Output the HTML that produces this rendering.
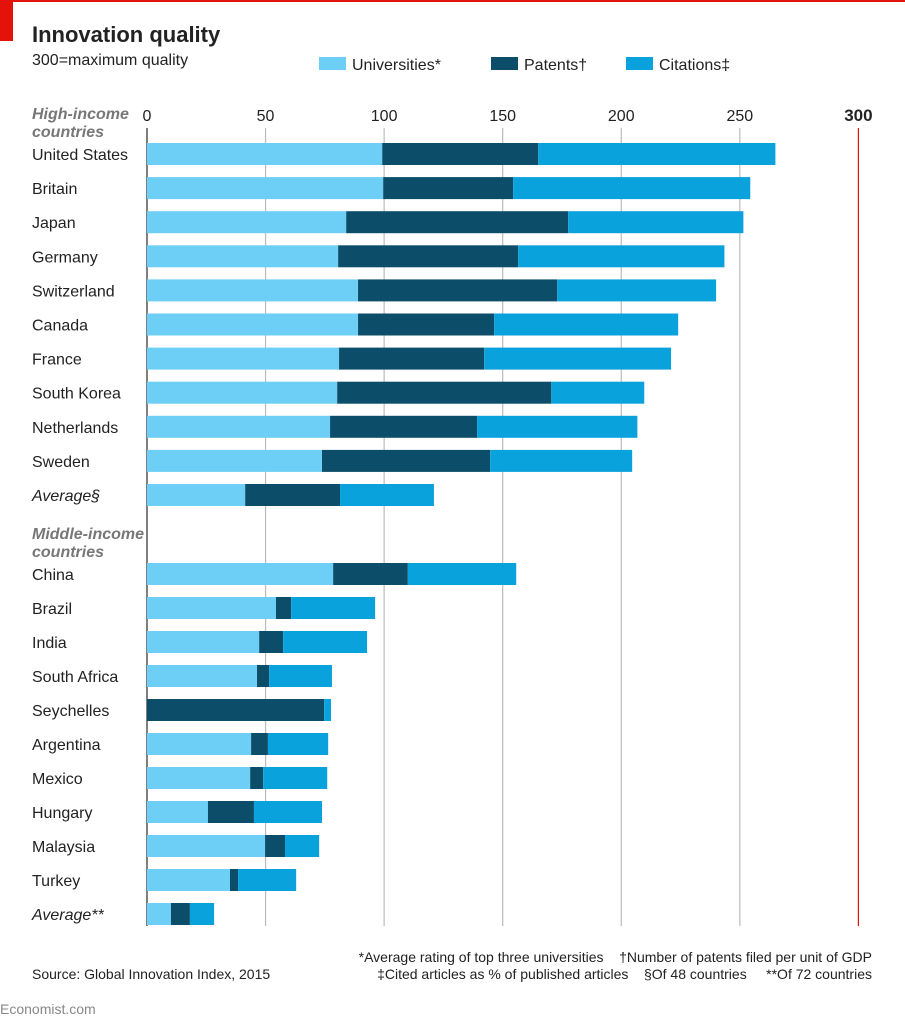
<!DOCTYPE html>
<html><head><meta charset="utf-8"><style>
body{margin:0;background:#fff;width:905px;height:1024px;overflow:hidden;font-family:"Liberation Sans",sans-serif}
.pre{white-space:pre}
</style></head><body>
<svg id="chart" width="905" height="1024" xmlns="http://www.w3.org/2000/svg" font-family="Liberation Sans, sans-serif">
<rect x="0" y="0" width="905" height="2" fill="#e3120b"/>
<rect x="0" y="0" width="13" height="41" fill="#e3120b"/>
<text x="32" y="42" font-size="22" font-weight="bold" fill="#222">Innovation quality</text>
<text x="32" y="65" font-size="16" fill="#222">300=maximum quality</text>
<g font-size="16" fill="#222">
<rect x="319" y="57" width="27" height="13" fill="#6dcff6"/>
<text x="352" y="70">Universities*</text>
<rect x="491" y="57" width="27" height="13" fill="#0c4e6a"/>
<text x="524" y="70">Patents†</text>
<rect x="626" y="57" width="27" height="13" fill="#0aa2dc"/>
<text x="659" y="70">Citations‡</text>
</g>
<g id="grid"></g>
<g id="bars"></g>
<g id="labels" font-size="16" fill="#222"></g>
<text x="32" y="119" font-size="16" font-style="italic" font-weight="bold" fill="#777">High-income</text>
<text x="32" y="137" font-size="16" font-style="italic" font-weight="bold" fill="#777">countries</text>
<text x="32" y="539" font-size="16" font-style="italic" font-weight="bold" fill="#777">Middle-income</text>
<text x="32" y="557" font-size="16" font-style="italic" font-weight="bold" fill="#777">countries</text>
<g font-size="14" fill="#222" text-anchor="end">
<text class="pre" x="872" y="962">*Average rating of top three universities    †Number of patents filed per unit of GDP</text>
<text class="pre" x="872" y="979">‡Cited articles as % of published articles    §Of 48 countries     **Of 72 countries</text>
</g>
<text x="32" y="979" font-size="14" fill="#222">Source: Global Innovation Index, 2015</text>
<text x="0" y="1014" font-size="14" fill="#888">Economist.com</text>
</svg>
<script>
const countries=["United States","Britain","Japan","Germany","Switzerland","Canada","France","South Korea","Netherlands","Sweden","Average§","China","Brazil","India","South Africa","Seychelles","Argentina","Mexico","Hungary","Malaysia","Turkey","Average**"];
const universities=[99.2,99.6,84,80.6,89,89,81,80.2,77.2,73.8,41.4,78.5,54.4,47.3,46.4,0,43.9,43.5,25.7,49.8,35,10.1];
const patents=[65.8,54.8,93.6,75.9,84,57.4,61.2,90.3,62,70.9,40,31.5,6.4,10.1,5.1,74.7,7.1,5.5,19.4,8.4,3.4,8];
const citations=[100,100,73.9,87,67,77.6,78.8,39.2,67.6,59.9,39.6,45.7,35.4,35.4,26.5,2.9,25.4,27,28.7,14.4,24.5,10.2];
const ticks=[0,50,100,150,200,250,300];
const ns="http://www.w3.org/2000/svg";
const x=v=>147+v*2.3713;
const rowY=i=>i<=10?154+i*34.1:574+(i-11)*34;
const grid=document.getElementById('grid'),bars=document.getElementById('bars'),labels=document.getElementById('labels');
ticks.forEach(t=>{
 const l=document.createElementNS(ns,'line');
 
 
 l.setAttribute('x1',x(t));l.setAttribute('x2',x(t));l.setAttribute('y1',128);l.setAttribute('y2',926);
 l.setAttribute('stroke',t==300?'#e3120b':(t==0?'#555':'#bbb'));l.setAttribute('stroke-width',t==0?1.5:1.2);
 grid.appendChild(l);
 const tx=document.createElementNS(ns,'text');
 
 
 tx.setAttribute('x',x(t));tx.setAttribute('y',121);tx.setAttribute('text-anchor','middle');
 tx.setAttribute('font-size',t==300?'17':'16');if(t==300)tx.setAttribute('font-weight','bold');
 tx.setAttribute('fill','#222');tx.textContent=t;grid.appendChild(tx);
});
const cols=["#6dcff6","#0c4e6a","#0aa2dc"],names=["universities","patents","citations"];
countries.forEach((c,i)=>{
 const y=rowY(i);let acc=0;
 [universities[i],patents[i],citations[i]].forEach((v,k)=>{
  const r=document.createElementNS(ns,'rect');
  
  
  r.setAttribute('x',x(acc));r.setAttribute('width',Math.max(0,x(acc+v)-x(acc)));
  r.setAttribute('y',y-11);r.setAttribute('height',22);r.setAttribute('fill',cols[k]);
  bars.appendChild(r);acc+=v;
 });
 const t=document.createElementNS(ns,'text');
 
 
 t.setAttribute('x',32);t.setAttribute('y',y+6);
 if(c.startsWith('Average'))t.setAttribute('font-style','italic');
 t.textContent=c;labels.appendChild(t);
});
</script>
</body></html>
